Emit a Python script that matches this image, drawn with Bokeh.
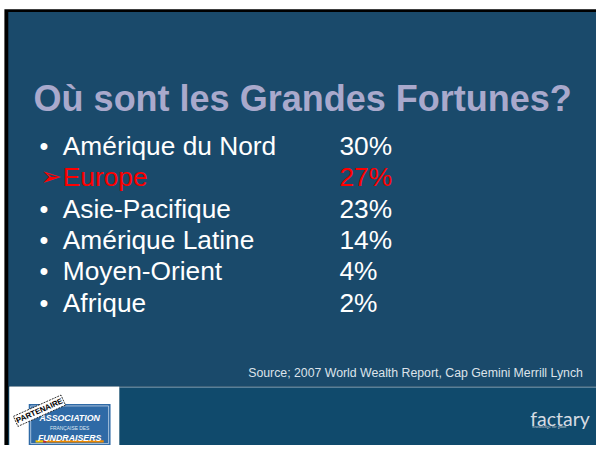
from bokeh.plotting import figure
from bokeh.models import Range1d, ColumnDataSource
from bokeh.core.properties import value
from bokeh.embed import file_html
from bokeh.resources import INLINE

# ---- data ----
title_text = "Où sont les Grandes Fortunes?"
regions = ["Amérique du Nord", "Europe", "Asie-Pacifique", "Amérique Latine", "Moyen-Orient", "Afrique"]
shares = [30, 27, 23, 14, 4, 2]
highlight = "Europe"
source_text = "Source; 2007 World Wealth Report, Cap Gemini Merrill Lynch"
brand_text = "factary"
brand_tagline = "knowledge for good"
logo_lines = ["ASSOCIATION", "FRANÇAISE DES", "FUNDRAISERS"]
stamp_text = "PARTENAIRE"

# ---- styles ----
BG = "#1a4a6b"
FOOT = "#104a6c"
TITLE_C = "#a9a9cc"
RED = "#ff0000"

W, H = 596, 445
SW, SH = 612, 461
S = W / SW


def fs(px):
    return f"{px * S:.1f}px"


p = figure(width=W, height=H, x_range=Range1d(0, SW), y_range=Range1d(SH, 0),
           output_backend="svg", toolbar_location=None, min_border=0)
p.axis.visible = False
p.grid.visible = False
p.outline_line_color = None
p.background_fill_color = "white"
p.border_fill_color = "white"

# slide frame
p.quad(left=[4], right=[640], top=[9], bottom=[480], fill_color="black", line_color=None)
p.quad(left=[8], right=[640], top=[12], bottom=[400], fill_color=BG, line_color=None)
p.quad(left=[8], right=[640], top=[400], bottom=[480], fill_color=FOOT, line_color=None)
p.segment(x0=[122], y0=[400.5], x1=[640], y1=[400.5], line_color="#8aa5ba", line_width=1)

# title
p.text(x=[34], y=[102], text=[title_text], text_font=value("Liberation Sans"),
       text_font_style="bold", text_font_size=fs(37), text_color=TITLE_C,
       text_baseline="alphabetic", text_align="left")

# bullet list
first, step = 150.5, 32.5
ys = [first + i * step for i in range(len(regions))]
colors = [RED if r == highlight else "white" for r in regions]
src = ColumnDataSource(dict(y=ys, region=regions, pct=[f"{s}%" for s in shares], c=colors))
p.text(x=64, y="y", text="region", source=src, text_font=value("Liberation Sans"),
       text_font_size=fs(27), text_color="c", text_baseline="alphabetic", text_align="left")
p.text(x=348, y="y", text="pct", source=src, text_font=value("Liberation Sans"),
       text_font_size=fs(27), text_color="c", text_baseline="alphabetic", text_align="left")

bul_y = [y for r, y in zip(regions, ys) if r != highlight]
p.text(x=40, y=bul_y, text=["•"] * len(bul_y), text_font=value("Liberation Sans"),
       text_font_size=fs(26), text_color="white", text_baseline="alphabetic", text_align="left")
arr_y = [y for r, y in zip(regions, ys) if r == highlight]
p.text(x=41, y=[v - 1 for v in arr_y], text=["➢"] * len(arr_y), text_font=value("DejaVu Sans"),
       text_font_size=fs(26), text_color=RED, text_baseline="alphabetic", text_align="left")

# source
p.text(x=[598], y=[386], text=[source_text], text_font=value("Liberation Sans"),
       text_font_size=fs(12.6), text_color="#dde3ea", text_baseline="alphabetic", text_align="right")

# factary logo
p.text(x=[544], y=[433], text=[brand_text], text_font=value("Lato"),
       text_font_size=fs(20), text_color="#d5dbe2", text_baseline="alphabetic", text_align="left")
p.text(x=[546], y=[441], text=[brand_tagline], text_font=value("Lato"),
       text_font_size=fs(4), text_color="#c0c8d0", text_baseline="alphabetic", text_align="left")

# partner logo
p.quad(left=[9], right=[122], top=[400], bottom=[480], fill_color="white", line_color=None)
p.quad(left=[29], right=[113], top=[418], bottom=[480], fill_color="#2f6aa6", line_color=None)
p.quad(left=[31], right=[111], top=[420], bottom=[459], fill_color=None, line_color="#d8e4f0", line_width=0.7)
p.quad(left=[36, 44, 47], right=[44, 47, 106], top=[455.5] * 3, bottom=[458] * 3,
       fill_color=["#f5c400", "#e02020", "#f08a00"], line_color=None)
p.text(x=[71], y=[433], text=[logo_lines[0]], text_font=value("Liberation Sans"), text_font_style="bold italic",
       text_font_size=fs(9), text_color="white", text_baseline="alphabetic", text_align="center")
p.text(x=[71], y=[443], text=[logo_lines[1]], text_font=value("Liberation Sans"),
       text_font_size=fs(5), text_color="#dfe8f2", text_baseline="alphabetic", text_align="center")
p.text(x=[71], y=[453], text=[logo_lines[2]], text_font=value("Liberation Sans"), text_font_style="bold italic",
       text_font_size=fs(9), text_color="white", text_baseline="alphabetic", text_align="center")
p.text(x=[40], y=[425], text=[stamp_text], angle=0.42, text_font=value("Liberation Sans"),
       text_font_style="bold", text_font_size=fs(8), text_color="black", text_baseline="middle",
       text_align="center", background_fill_color="white", border_line_color="black",
       border_line_dash="2 1", border_line_width=0.8, padding=1)

open("out.html", "w").write(file_html(p, INLINE))
